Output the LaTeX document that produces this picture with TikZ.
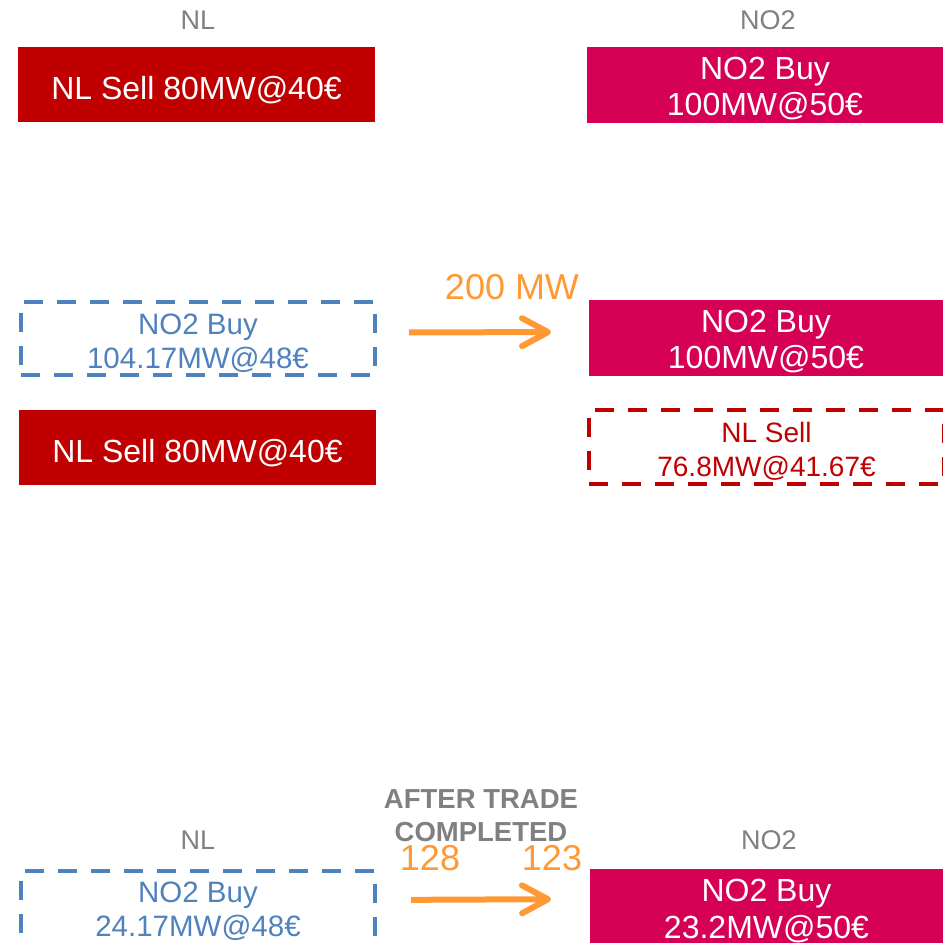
\documentclass[tikz,border=0pt]{standalone}
\usepackage{fontspec}
\setmainfont{Liberation Sans}
\usepackage{tikz}
\usetikzlibrary{arrows.meta}
\definecolor{sellred}{RGB}{192,0,0}
\definecolor{buypink}{RGB}{214,0,84}
\definecolor{bidblue}{RGB}{79,129,189}
\definecolor{flow}{RGB}{255,153,51}
\definecolor{hdrgray}{RGB}{128,128,128}

\begin{document}
\begin{tikzpicture}[x=1pt, y=-1pt,
  box/.style={anchor=north west, inner sep=0pt, outer sep=0pt, align=center, text=white, font=\fontsize{32}{36}\selectfont},
  sellbox/.style={box, fill=sellred, minimum width=357pt, minimum height=75pt, text height=34pt},
  buybox/.style={box, fill=buypink, minimum width=#1, minimum height=76pt},
  ghost/.style={box, draw=#1, text=#1, line width=4.5pt, line join=round, dash pattern=on 19pt off 14pt, font=\fontsize{29.5}{34}\selectfont},
  hdr/.style={text=hdrgray, font=\fontsize{27}{30}\selectfont},
  flowarrow/.style={draw=flow, line width=6pt, -{Straight Barb[length=26pt, width=28pt, round]}},
  mw/.style={text=flow, font=\fontsize{36}{40}\selectfont}]
  \useasboundingbox (0,0) rectangle (943,943);

  % order books
  \node[hdr] (nl-hdr) at (198,20) {NL};
  \node[hdr] (no-hdr) at (768,20) {NO2};
  \node[sellbox] (nl-sell) at (18,47) {NL Sell 80MW@40€};
  \node[buybox=356pt, text height=65pt] (no-buy) at (587,47) {NO2 Buy\\100MW@50€};

  % implicit orders across the line
  \node[ghost=bidblue, minimum width=354pt, minimum height=73pt, text height=63.5pt] (nl-bid) at (21,302) {NO2 Buy\\104.17MW@48€};
  \node[sellbox] (nl-sell2) at (19,410) {NL Sell 80MW@40€};
  \node[buybox=354pt, text height=65pt] (no-buy2) at (589,300) {NO2 Buy\\100MW@50€};
  \node[ghost=sellred, minimum width=355pt, minimum height=74pt, font=\fontsize{28}{34}\selectfont, text height=62.5pt] (no-ask) at (589,410) {NL Sell\\76.8MW@41.67€};
  \node[mw] (cap) at (512,287) {200 MW};
  \draw[flowarrow, shorten <=34pt, shorten >=38pt] ([yshift=6pt]nl-bid.east) -- ([yshift=6pt]no-buy2.west);

  % after trade
  \node[text=hdrgray, align=center, font=\bfseries\fontsize{27.5}{33}\selectfont] (done) at (481,816) {AFTER TRADE\\COMPLETED};
  \node[hdr] (nl-hdr2) at (198,840) {NL};
  \node[hdr] (no-hdr2) at (769,840) {NO2};
  \node[ghost=bidblue, minimum width=354pt, minimum height=74pt, text height=60.5pt] (nl-bid2) at (21,871) {NO2 Buy\\24.17MW@48€};
  \node[buybox=353pt, font=\fontsize{32}{37}\selectfont, text height=68pt] (no-buy3) at (590,869) {NO2 Buy\\23.2MW@50€};
  \node[mw] (from) at (430,858) {128};
  \node[mw] (to) at (552,858) {123};
  \draw[flowarrow, shorten <=36pt, shorten >=39pt] ([yshift=8pt]nl-bid2.east) -- ([yshift=8pt]no-buy3.west);
\end{tikzpicture}
\end{document}
